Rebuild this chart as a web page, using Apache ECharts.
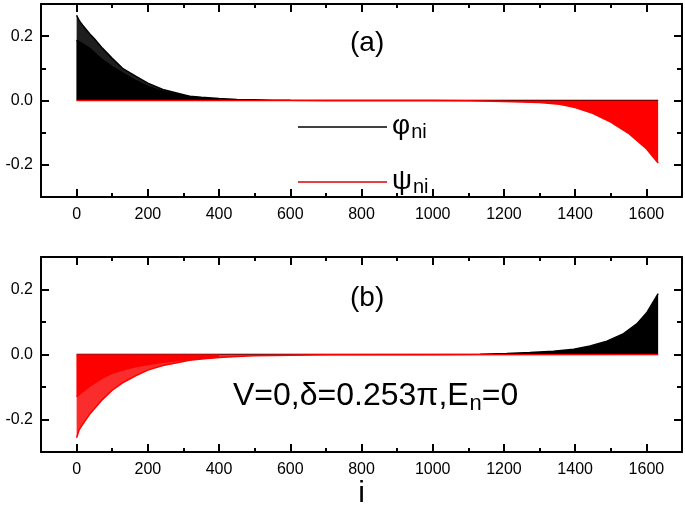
<!DOCTYPE html>
<html>
<head>
<meta charset="utf-8">
<script src="https://cdn.jsdelivr.net/npm/echarts@6/dist/echarts.min.js"></script>
<style>html,body{margin:0;padding:0;background:#fff}#c{width:685px;height:522px;background:#fff}</style>
</head>
<body>
<div id="c"></div>
<script>
// ---- tick labels ----
const xMajorTicks = [0, 200, 400, 600, 800, 1000, 1200, 1400, 1600];
const xMinorTicks = [100, 300, 500, 700, 900, 1100, 1300, 1500];
const yMajorTicks = [-0.2, 0.0, 0.2];
const yMinorTicks = [-0.1, 0.1];

// ---- panel (a): phi_ni (black), upper envelope and inner (lower) stems ----
const aPhiOuterI = [0, 7, 17, 36, 50, 73, 100, 129, 167, 200, 242, 289, 317, 350, 400, 450, 500, 550, 600, 700, 1633];
const aPhiOuterV = [0.265, 0.249, 0.234, 0.208, 0.192, 0.162, 0.131, 0.100, 0.075, 0.054, 0.034, 0.021, 0.013, 0.010, 0.006, 0.003, 0.002, 0.001, 0.0005, 0, 0];
const aPhiInnerI = [0, 36, 73, 100, 129, 167, 200, 242, 289, 350, 400];
const aPhiInnerV = [0.188, 0.163, 0.126, 0.105, 0.086, 0.062, 0.044, 0.028, 0.016, 0.008, 0.004];
// ---- panel (a): psi_ni (red) ----
const aPsiI = [0, 1000, 1100, 1200, 1300, 1356, 1400, 1449, 1500, 1552, 1600, 1633];
const aPsiV = [0, 0, -0.001, -0.003, -0.006, -0.012, -0.022, -0.040, -0.067, -0.104, -0.150, -0.194];

// ---- panel (b): phi_ni (black) ----
const bPhiI = [0, 1000, 1133, 1208, 1273, 1339, 1396, 1442, 1489, 1536, 1573, 1602, 1633];
const bPhiV = [0, 0, 0.001, 0.003, 0.006, 0.010, 0.016, 0.026, 0.041, 0.064, 0.094, 0.130, 0.187];
// ---- panel (b): psi_ni (red), envelope and inner stems ----
const bPsiOuterI = [0, 7, 17, 36, 73, 100, 129, 167, 200, 242, 289, 317, 350, 400, 450, 500, 600, 700, 1633];
const bPsiOuterV = [-0.256, -0.232, -0.215, -0.185, -0.138, -0.110, -0.087, -0.065, -0.048, -0.034, -0.024, -0.018, -0.014, -0.009, -0.006, -0.004, -0.002, -0.001, 0];
const bPsiInnerI = [0, 36, 73, 100, 129, 167, 200, 242, 289, 350, 400];
const bPsiInnerV = [-0.130, -0.098, -0.072, -0.058, -0.048, -0.037, -0.031, -0.024, -0.018, -0.012, -0.008];

const FONT = '"Liberation Sans", Arial, sans-serif';
const pairs = (xs, ys) => xs.map((x, k) => [x, ys[k]]);
const TICK = {color: '#000', width: 2};

function xFrame(grid, pos, ticks, len, withLine, withLabels, name) {
  const ax = {
    gridIndex: grid, type: 'value', min: -100, max: 1700, position: pos,
    splitLine: {show: false},
    axisLine: {show: withLine, onZero: false, lineStyle: {color: '#000', width: 2}},
    axisTick: {show: true, inside: true, length: len, customValues: ticks, lineStyle: TICK},
    axisLabel: withLabels
      ? {show: true, customValues: ticks, color: '#000', fontSize: 16, fontFamily: FONT, margin: 10, formatter: v => String(v)}
      : {show: false}
  };
  if (name) {
    ax.name = name;
    ax.nameLocation = 'middle';
    ax.nameGap = 22;
    ax.nameTextStyle = {fontSize: 30, fontFamily: FONT, color: '#000', verticalAlign: 'top'};
  }
  return ax;
}
function yFrame(grid, pos, ticks, len, withLine, withLabels) {
  return {
    gridIndex: grid, type: 'value', min: -0.3, max: 0.3, position: pos,
    splitLine: {show: false},
    axisLine: {show: withLine, onZero: false, lineStyle: {color: '#000', width: 2}},
    axisTick: {show: true, inside: true, length: len, customValues: ticks, lineStyle: TICK},
    axisLabel: withLabels
      ? {show: true, customValues: ticks, color: '#000', fontSize: 16, fontFamily: FONT, margin: 8, formatter: v => Number(v).toFixed(1)}
      : {show: false}
  };
}
function frameX(g, name) {
  return [
    xFrame(g, 'bottom', xMajorTicks, 8, true, true, name),
    xFrame(g, 'bottom', xMinorTicks, 4, false, false),
    xFrame(g, 'top', xMajorTicks, 8, true, false),
    xFrame(g, 'top', xMinorTicks, 4, false, false)
  ];
}
function frameY(g) {
  return [
    yFrame(g, 'left', yMajorTicks, 8, true, true),
    yFrame(g, 'left', yMinorTicks, 5, false, false),
    yFrame(g, 'right', yMajorTicks, 8, true, false),
    yFrame(g, 'right', yMinorTicks, 5, false, false)
  ];
}

function area(name, xi, yi, data, color, lineColor, z) {
  return {
    name: name, type: 'line', xAxisIndex: xi, yAxisIndex: yi,
    data: data, symbol: 'none', smooth: false,
    lineStyle: {color: lineColor, width: 1.5},
    itemStyle: {color: lineColor},
    areaStyle: {color: color, opacity: 1, origin: 0},
    z: z, silent: true
  };
}

const legendRich = {
  g: {fontSize: 28, fontFamily: FONT, color: '#000', lineHeight: 30, verticalAlign: 'top'},
  s: {fontSize: 20, fontFamily: FONT, color: '#000', lineHeight: 20, verticalAlign: 'bottom', padding: [19, 0, 0, 1]}
};
function legendAt(name, top, color) {
  return {
    data: [{name: name, itemStyle: {color: color}}],
    left: 293, top: top, orient: 'vertical',
    icon: 'rect', itemWidth: 89, itemHeight: 1.5, itemGap: 0,
    selectedMode: false,
    formatter: n => n === 'φni' ? '{g|φ}{s|ni}' : '{g|ψ}{s|ni}',
    textStyle: {rich: legendRich, padding: [0, 0, 0, 0]}
  };
}

const rectA = {left: 41, top: 4, width: 641, height: 193};
const rectB = {left: 41, top: 257, width: 641, height: 195};

const option = {
  animation: false,
  // grids 0/1 carry the data, grids 2/3 (same rectangles) carry the framed axes
  grid: [rectA, rectB, Object.assign({}, rectA), Object.assign({}, rectB)],
  title: [
    {text: '(a)', left: 345, top: 24, textStyle: {fontSize: 28, fontWeight: 'normal', fontFamily: FONT, color: '#000'}},
    {text: '(b)', left: 345, top: 279, textStyle: {fontSize: 28, fontWeight: 'normal', fontFamily: FONT, color: '#000'}},
    {text: '{m|V=0,δ=0.253π,E}{s|n}{m|=0}', left: 228, top: 375,
      textStyle: {fontWeight: 'normal', rich: {
        m: {fontSize: 32, fontWeight: 'normal', fontFamily: FONT, color: '#000', lineHeight: 35, verticalAlign: 'top'},
        s: {fontSize: 22, fontWeight: 'normal', fontFamily: FONT, color: '#000', lineHeight: 22, verticalAlign: 'bottom', padding: [24, 0, 0, 1]}
      }}}
  ],
  legend: [legendAt('φni', 98, '#000'), legendAt('ψni', 153, '#e00000')],
  xAxis: [
    {gridIndex: 0, type: 'value', min: -100, max: 1700, show: false},
    {gridIndex: 1, type: 'value', min: -100, max: 1700, show: false}
  ].concat(frameX(2), frameX(3, 'i')),
  yAxis: [
    {gridIndex: 0, type: 'value', min: -0.3, max: 0.3, show: false},
    {gridIndex: 1, type: 'value', min: -0.3, max: 0.3, show: false}
  ].concat(frameY(2), frameY(3)),
  series: [
    area('φni', 0, 0, pairs(aPhiOuterI, aPhiOuterV), '#1e1e1e', '#000', 2),
    area('φ-inner-a', 0, 0, pairs(aPhiInnerI, aPhiInnerV), '#000', '#000', 3),
    area('ψni', 0, 0, pairs(aPsiI, aPsiV), '#ff0000', '#ff0000', 4),
    area('φ-b', 1, 1, pairs(bPhiI, bPhiV), '#000', '#000', 2),
    area('ψ-outer-b', 1, 1, pairs(bPsiOuterI, bPsiOuterV), '#fa2c2c', '#ff0000', 3),
    area('ψ-inner-b', 1, 1, pairs(bPsiInnerI, bPsiInnerV), '#ff0000', '#ff0000', 4)
  ]
};

const chart = echarts.init(document.getElementById('c'));
chart.setOption(option);
</script>
</body>
</html>
